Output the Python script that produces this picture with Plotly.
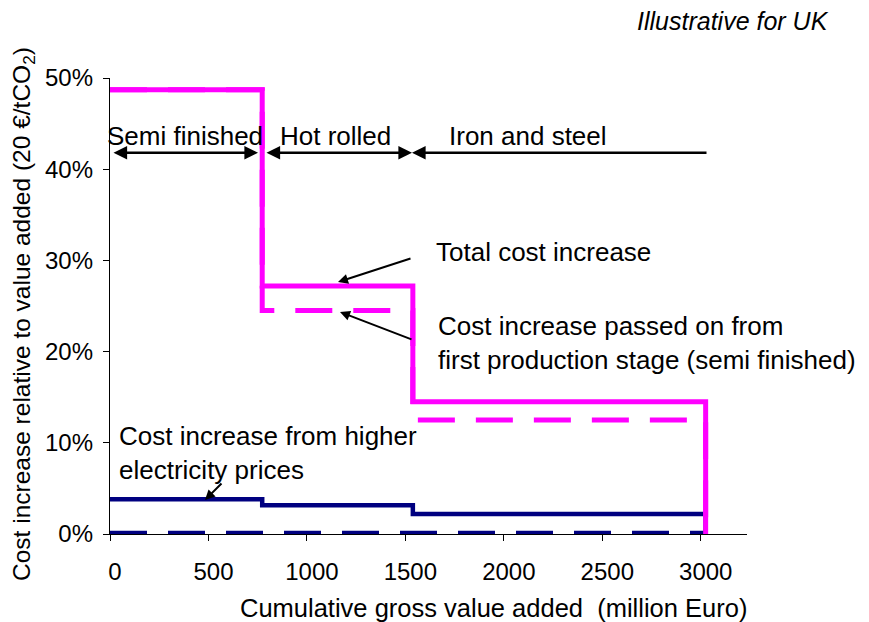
import plotly.graph_objects as go

# Production stages along the cumulative gross value added axis (million Euro)
stage_edges = [0, 773, 1538, 3025]
stage_names = ["Semi finished", "Hot rolled", "Iron and steel"]

# Cost increase relative to value added, per stage
total_cost = [0.487, 0.272, 0.145]
passed_on = [0.487, 0.245, 0.125]
electricity = [0.038, 0.0315, 0.022]
electricity_passed = [0.001, 0.001, 0.001]

x_ticks = [0, 500, 1000, 1500, 2000, 2500, 3000]
y_ticks = [0, 0.1, 0.2, 0.3, 0.4, 0.5]

MAGENTA = "#FF00FF"
NAVY = "#000080"
FONT = "Liberation Sans, Arial, sans-serif"
LABEL_SIZE = 26

# plot area in pixels
L, T, W, H = 110, 78, 637, 456
FIG_W, FIG_H = 869, 622
X_MAX = 3235


def step_path(values):
    """Step line over the stages, dropping to zero after the last stage."""
    xs = list(stage_edges[:-1]) + [stage_edges[-1], stage_edges[-1]]
    ys = list(values) + [values[-1], 0]
    return xs, ys


def px_x(px):
    return (px - L) / W


def px_y(py):
    return (T + H - py) / H


def data_x(px):
    return (px - L) / W * X_MAX


def data_y(py):
    return (T + H - py) / H * 0.5


fig = go.Figure()

series = [
    (electricity_passed, NAVY, 4.5, "37px,21px"),
    (electricity, NAVY, 4.5, "solid"),
    (passed_on, MAGENTA, 5, "37px,21px"),
    (total_cost, MAGENTA, 5, "solid"),
]
for vals, color, width, dash in series:
    xs, ys = step_path(vals)
    fig.add_trace(go.Scatter(
        x=xs, y=ys, mode="lines", line_shape="hv",
        line=dict(color=color, width=width, dash=dash),
        cliponaxis=False, showlegend=False, hoverinfo="skip",
    ))

annotations = []

# stage brackets
bracket_y = data_y(152.7)
bracket_px = [(112, 258, "end+start"), (265, 412, "end+start"), (412, 708, "start")]
label_cx = [185, 335, 528]
for (x0, x1, side), name, cx in zip(bracket_px, stage_names, label_cx):
    annotations.append(dict(
        x=data_x(x1) if side != "start" else data_x(x0), y=bracket_y,
        ax=data_x(x0) if side != "start" else data_x(x1), ay=bracket_y,
        xref="x", yref="y", axref="x", ayref="y",
        text="", showarrow=True, arrowhead=2, arrowsize=1.05, arrowwidth=2.6,
        arrowcolor="black",
        arrowside="end+start" if side == "end+start" else "end",
    ))
    annotations.append(dict(
        x=px_x(cx), y=px_y(136), xref="paper", yref="paper",
        text=name, showarrow=False, xanchor="center", yanchor="middle",
        font=dict(family=FONT, size=LABEL_SIZE, color="black"),
    ))

# pointer arrows to the curves
pointers = [
    ((338, 282), (412, 258)),
    ((340, 312), (413, 340)),
    ((205, 500), (223, 482)),
]
for (tx, ty), (sx, sy) in pointers:
    annotations.append(dict(
        x=data_x(tx), y=data_y(ty), xref="x", yref="y",
        ax=sx - tx, ay=sy - ty, text="", showarrow=True,
        arrowhead=2, arrowsize=1.0, arrowwidth=2, arrowcolor="black",
    ))

labels = [
    ("Total cost increase", 434, 252, "middle"),
    ("Cost increase passed on from<br>first production stage (semi finished)", 436, 343, "middle"),
    ("Cost increase from higher<br>electricity prices", 117, 419, "top"),
]
for text, lx, ly, ya in labels:
    annotations.append(dict(
        x=px_x(lx), y=px_y(ly), xref="paper", yref="paper", text=text,
        showarrow=False, xanchor="left", yanchor=ya, align="left",
        font=dict(family=FONT, size=LABEL_SIZE, color="black"),
    ))

annotations.append(dict(
    x=px_x(831), y=px_y(21), xref="paper", yref="paper",
    text="<i>Illustrative for UK</i>", showarrow=False,
    xanchor="right", yanchor="middle",
    font=dict(family=FONT, size=25, color="black"),
))

# axis titles
annotations.append(dict(
    x=px_x(493), y=px_y(608), xref="paper", yref="paper",
    text="Cumulative gross value added  (million Euro)", showarrow=False,
    xanchor="center", yanchor="middle",
    font=dict(family=FONT, size=25.5, color="black"),
))
annotations.append(dict(
    x=px_x(23), y=px_y(314), xref="paper", yref="paper",
    text="Cost increase relative to value added (20 €/tCO<sub>2</sub>)",
    showarrow=False, textangle=-90, xanchor="center", yanchor="middle",
    font=dict(family=FONT, size=24.5, color="black"),
))

fig.update_layout(
    width=FIG_W, height=FIG_H,
    margin=dict(l=L, r=FIG_W - L - W, t=T, b=FIG_H - T - H, pad=0),
    paper_bgcolor="white", plot_bgcolor="white",
    font=dict(family=FONT, color="black"),
    annotations=annotations,
    xaxis=dict(
        range=[0, X_MAX], tickvals=x_ticks, ticktext=[str(v) for v in x_ticks],
        showgrid=False, zeroline=False, showline=True, linecolor="black",
        linewidth=1.3, ticks="outside", ticklen=6, tickcolor="black",
        tickwidth=1.3, tickfont=dict(family=FONT, size=24, color="black"),
        ticklabelshift=5, ticklabelstandoff=10,
    ),
    yaxis=dict(
        range=[0, 0.5], tickvals=y_ticks, tickformat=".0%",
        showgrid=False, zeroline=False, showline=True, linecolor="black",
        linewidth=1.3, ticks="outside", ticklen=6, tickcolor="black",
        tickwidth=1.3, tickfont=dict(family=FONT, size=24, color="black"),
        ticklabelstandoff=5,
    ),
)

fig.write_html("out.html")
